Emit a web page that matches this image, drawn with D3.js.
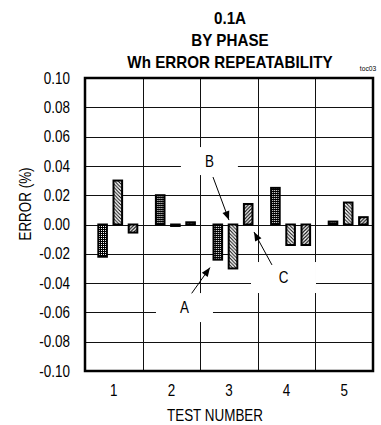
<!DOCTYPE html>
<html>
<head>
<meta charset="utf-8">
<script src="https://cdn.jsdelivr.net/npm/d3@7"></script>
<style>
  body { margin: 0; background: #fff; }
  text { font-family: "Liberation Sans", Arial, sans-serif; fill: #000; }
</style>
</head>
<body>
<svg id="chart"></svg>
<script>
// data
const testNumbers = [1, 2, 3, 4, 5];
const seriesKeys = ['A', 'B', 'C'];
const errA = [-0.022, 0.020, -0.024, 0.025, 0.002];
const errB = [0.030, -0.001, -0.030, -0.014, 0.015];
const errC = [-0.0055, 0.0015, 0.014, -0.014, 0.005];
const yTicks = [0.10, 0.08, 0.06, 0.04, 0.02, 0.00, -0.02, -0.04, -0.06, -0.08, -0.10];
const titleLines = ['0.1A', 'BY PHASE', 'Wh ERROR REPEATABILITY'];

const W = 381, H = 425;
const margin = { top: 78, right: 8, bottom: 54, left: 85 };
const w = W - margin.left - margin.right;
const h = H - margin.top - margin.bottom;
const squeeze = 'scale(0.84,1)';   // the scan's lettering is narrow

const rows = testNumbers.map((t, i) => ({ test: t, A: errA[i], B: errB[i], C: errC[i] }));

const svg = d3.select('#chart').attr('width', W).attr('height', H);
const defs = svg.append('defs');

// fill patterns: A dark stipple, B "\" hatch, C "/" hatch
const pA = defs.append('pattern').attr('id', 'patA').attr('patternUnits', 'userSpaceOnUse')
  .attr('width', 2).attr('height', 2);
pA.append('rect').attr('width', 2).attr('height', 2).attr('fill', '#000');
pA.append('rect').attr('width', 1).attr('height', 1).attr('fill', '#fff');

const pB = defs.append('pattern').attr('id', 'patB').attr('patternUnits', 'userSpaceOnUse')
  .attr('width', 3.5).attr('height', 3.5);
pB.append('rect').attr('width', 3.5).attr('height', 3.5).attr('fill', '#fff');
pB.append('path').attr('d', 'M-1,-1L4.5,4.5M-1,2.5L1,4.5M2.5,-1L4.5,1').attr('stroke', '#000').attr('stroke-width', 1);

const pC = defs.append('pattern').attr('id', 'patC').attr('patternUnits', 'userSpaceOnUse')
  .attr('width', 3.5).attr('height', 3.5);
pC.append('rect').attr('width', 3.5).attr('height', 3.5).attr('fill', '#fff');
pC.append('path').attr('d', 'M-1,4.5L4.5,-1M-1,1L1,-1M2.5,4.5L4.5,2.5').attr('stroke', '#000').attr('stroke-width', 1.1);

defs.append('marker').attr('id', 'head')
  .attr('viewBox', '0 0 10 10').attr('refX', 10).attr('refY', 5)
  .attr('markerWidth', 11).attr('markerHeight', 9).attr('orient', 'auto')
  .append('path').attr('d', 'M0,1L10,5L0,9z').attr('fill', '#000');

const g = svg.append('g').attr('transform', `translate(${margin.left},${margin.top})`);

const x0 = d3.scaleBand().domain(testNumbers).range([0, w]);
const x1 = d3.scaleBand().domain(seriesKeys)
  .range([x0.bandwidth() * 0.231, x0.bandwidth() * 0.908]).paddingInner(0.434);
const xPos = d3.scaleLinear().domain([0.5, 5.5]).range([0, w]);
const y = d3.scaleLinear().domain([-0.10, 0.10]).range([h, 0]);

// grid
g.append('g').selectAll('line').data(yTicks.slice(1, -1)).join('line')
  .attr('x1', 0).attr('x2', w)
  .attr('y1', d => Math.round(y(d)) + 0.5).attr('y2', d => Math.round(y(d)) + 0.5)
  .attr('stroke', '#111').attr('stroke-width', 1);
g.append('g').selectAll('line').data(testNumbers.slice(1)).join('line')
  .attr('x1', d => Math.round(x0(d)) + 0.5).attr('x2', d => Math.round(x0(d)) + 0.5)
  .attr('y1', 0).attr('y2', h)
  .attr('stroke', '#111').attr('stroke-width', 1);

// callouts: label boxes knock out the grid
const callouts = [
  { label: 'B', at: [2.66, 0.0433], box: [57, 28], from: [2.722, 0.0324], to: [3.0, 0.003] },
  { label: 'C', at: [3.946, -0.0362], box: [65, 31], from: [3.746, -0.0276], to: [3.434, -0.0051] },
  { label: 'A', at: [2.227, -0.0567], box: [57, 29], from: [2.352, -0.047], to: [2.67, -0.0294] }
];
g.append('g').selectAll('rect').data(callouts).join('rect')
  .attr('x', d => xPos(d.at[0]) - d.box[0] / 2)
  .attr('y', d => y(d.at[1]) - d.box[1] / 2)
  .attr('width', d => d.box[0]).attr('height', d => d.box[1])
  .attr('fill', '#fff');

// bars
const groups = g.append('g').selectAll('g').data(rows).join('g')
  .attr('transform', d => `translate(${x0(d.test)},0)`);
groups.selectAll('rect')
  .data(d => seriesKeys.map(k => ({ key: k, value: d[k] })))
  .join('rect')
  .attr('x', d => x1(d.key))
  .attr('y', d => y(Math.max(0, d.value)))
  .attr('width', x1.bandwidth())
  .attr('height', d => Math.abs(y(d.value) - y(0)))
  .attr('fill', d => `url(#pat${d.key})`)
  .attr('stroke', '#000').attr('stroke-width', 2);

// plot frame
g.append('rect').attr('width', w).attr('height', h)
  .attr('fill', 'none').attr('stroke', '#000').attr('stroke-width', 2.5);

// callout text + arrows
g.append('g').selectAll('text').data(callouts).join('text')
  .attr('transform', d => `translate(${xPos(d.at[0])},${y(d.at[1])}) ${squeeze}`)
  .attr('text-anchor', 'middle').attr('dy', '0.36em')
  .style('font-size', '16px')
  .text(d => d.label);
g.append('g').selectAll('line').data(callouts).join('line')
  .attr('x1', d => xPos(d.from[0])).attr('y1', d => y(d.from[1]))
  .attr('x2', d => xPos(d.to[0])).attr('y2', d => y(d.to[1]))
  .attr('stroke', '#000').attr('stroke-width', 1)
  .attr('marker-end', 'url(#head)');

// axes
const yAxis = d3.axisLeft(y).tickValues(yTicks).tickSize(0).tickPadding(18)
  .tickFormat(d => d.toFixed(2));
const xAxis = d3.axisBottom(x0).tickSize(0).tickPadding(14);
const ya = g.append('g').call(yAxis);
const xa = g.append('g').attr('transform', `translate(0,${h})`).call(xAxis);
[ya, xa].forEach(a => {
  a.select('.domain').remove();
  a.selectAll('text').style('font-size', '16px')
    .style('font-family', '"Liberation Sans", Arial, sans-serif')
    .attr('fill', '#000').attr('transform', squeeze);
});

// titles
svg.append('g').selectAll('text').data(titleLines).join('text')
  .attr('transform', (d, i) => `translate(230,${23.5 + i * 22}) scale(0.95,1)`)
  .attr('text-anchor', 'middle')
  .style('font-size', '16px').style('font-weight', 'bold')
  .text(d => d);

svg.append('text')
  .attr('transform', `translate(368,71) ${squeeze}`)
  .attr('text-anchor', 'middle').style('font-size', '8px')
  .text('toc03');

svg.append('text')
  .attr('transform', `translate(215,421) ${squeeze}`)
  .attr('text-anchor', 'middle').style('font-size', '16px')
  .text('TEST NUMBER');

svg.append('text')
  .attr('transform', `translate(25,204) rotate(-90) ${squeeze}`)
  .attr('text-anchor', 'middle').attr('dy', '0.35em').style('font-size', '16px')
  .text('ERROR (%)');
</script>
</body>
</html>
